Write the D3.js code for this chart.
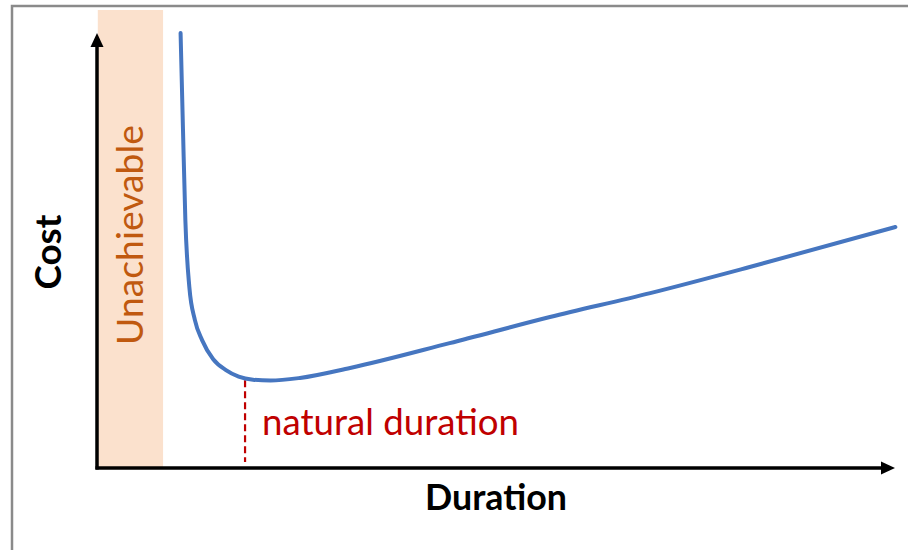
<!DOCTYPE html>
<html>
<head>
<meta charset="utf-8">
<script src="https://cdn.jsdelivr.net/npm/d3@7"></script>
<style>
  html, body { margin: 0; padding: 0; background: #fff; }
  svg { display: block; }
  text { font-family: Lato, "Open Sans", sans-serif; }
</style>
</head>
<body>
<svg id="chart" width="908" height="550"></svg>
<script>
// ---- data (abstract units: duration 0..100, cost 0..100) ----
const durations = [10.5, 10.8, 11.1, 11.6, 12.3, 13.2, 14.6, 16.2, 17.8, 19.6, 21.8, 25.5, 31.8, 44.3, 56.9, 69.5, 82.0, 100.3];
const costs     = [100, 78, 57.0, 41.6, 34.0, 29.4, 25.0, 22.5, 21.0, 20.3, 20.1, 20.7, 23.0, 28.7, 34.7, 40.2, 46.2, 55.4];
const naturalDuration = 18.6;
const unachievableRange = [0.1, 8.3];
const labels = { x: "Duration", y: "Cost", band: "Unachievable", marker: "natural duration" };

const svg = d3.select("#chart");
const x = d3.scaleLinear().domain([0, 100]).range([97, 893]);
const y = d3.scaleLinear().domain([0, 100]).range([468, 33]);

// frame (top and left edges, cropped screenshot)
svg.append("path")
  .attr("d", "M12,550 L12,6 L908,6")
  .attr("fill", "none").attr("stroke", "#8a8a8a").attr("stroke-width", 2.5);

// unachievable band
svg.append("rect")
  .attr("x", x(unachievableRange[0]))
  .attr("width", x(unachievableRange[1]) - x(unachievableRange[0]))
  .attr("y", 10)
  .attr("height", y(0) - 10)
  .attr("fill", "#fbe1cd");

function fitText(sel, targetLen, baseSize) {
  sel.attr("font-size", baseSize);
  const len = sel.node().getComputedTextLength();
  sel.attr("font-size", baseSize * targetLen / len);
}
const bandLabel = svg.append("text")
  .attr("transform", `translate(143,${(125 + 345) / 2}) rotate(-90)`)
  .attr("text-anchor", "middle")
  .attr("fill", "#c0590f")
  .text(labels.band);
fitText(bandLabel, 220, 30);

// natural duration dashed marker
svg.append("line")
  .attr("x1", x(naturalDuration)).attr("x2", x(naturalDuration))
  .attr("y1", y(20.5) + 1.5).attr("y2", y(1.4))
  .attr("stroke", "#c00000").attr("stroke-width", 2.2)
  .attr("stroke-dasharray", "7,4");

const markerLabel = svg.append("text")
  .attr("x", 262).attr("y", 435)
  .attr("fill", "#c00000")
  .text(labels.marker);
fitText(markerLabel, 257, 28);

// curve
const line = d3.line()
  .x((d, i) => x(durations[i]))
  .y((d, i) => y(costs[i]))
  .curve(d3.curveMonotoneX);
svg.append("path")
  .datum(costs)
  .attr("d", line)
  .attr("fill", "none")
  .attr("stroke", "#4676c0")
  .attr("stroke-width", 4)
  .attr("stroke-linecap", "round");

// axes with arrowheads
const x0 = x(0), y0 = y(0);
svg.append("line")
  .attr("x1", x0).attr("y1", y0 + 1.5).attr("x2", x0).attr("y2", y(100) + 10)
  .attr("stroke", "#000").attr("stroke-width", 3.5);
svg.append("path")
  .attr("d", `M${x0},${y(100)} L${x0 - 6.5},${y(100) + 14} L${x0 + 6.5},${y(100) + 14} Z`)
  .attr("fill", "#000");
const xEnd = x(100) + 2;
svg.append("line")
  .attr("x1", x0 - 1.5).attr("y1", y0).attr("x2", xEnd - 10).attr("y2", y0)
  .attr("stroke", "#000").attr("stroke-width", 3.5);
svg.append("path")
  .attr("d", `M${xEnd},${y0} L${xEnd - 14},${y0 - 6.5} L${xEnd - 14},${y0 + 6.5} Z`)
  .attr("fill", "#000");

// axis titles
const xTitle = svg.append("text")
  .attr("x", 496).attr("y", 510)
  .attr("text-anchor", "middle")
  .attr("font-weight", "bold")
  .attr("fill", "#000")
  .text(labels.x);
fitText(xTitle, 142, 30);

const yTitle = svg.append("text")
  .attr("transform", `translate(61,252) rotate(-90)`)
  .attr("text-anchor", "middle")
  .attr("font-weight", "bold")
  .attr("fill", "#000")
  .text(labels.y);
fitText(yTitle, 75, 30);
</script>
</body>
</html>
